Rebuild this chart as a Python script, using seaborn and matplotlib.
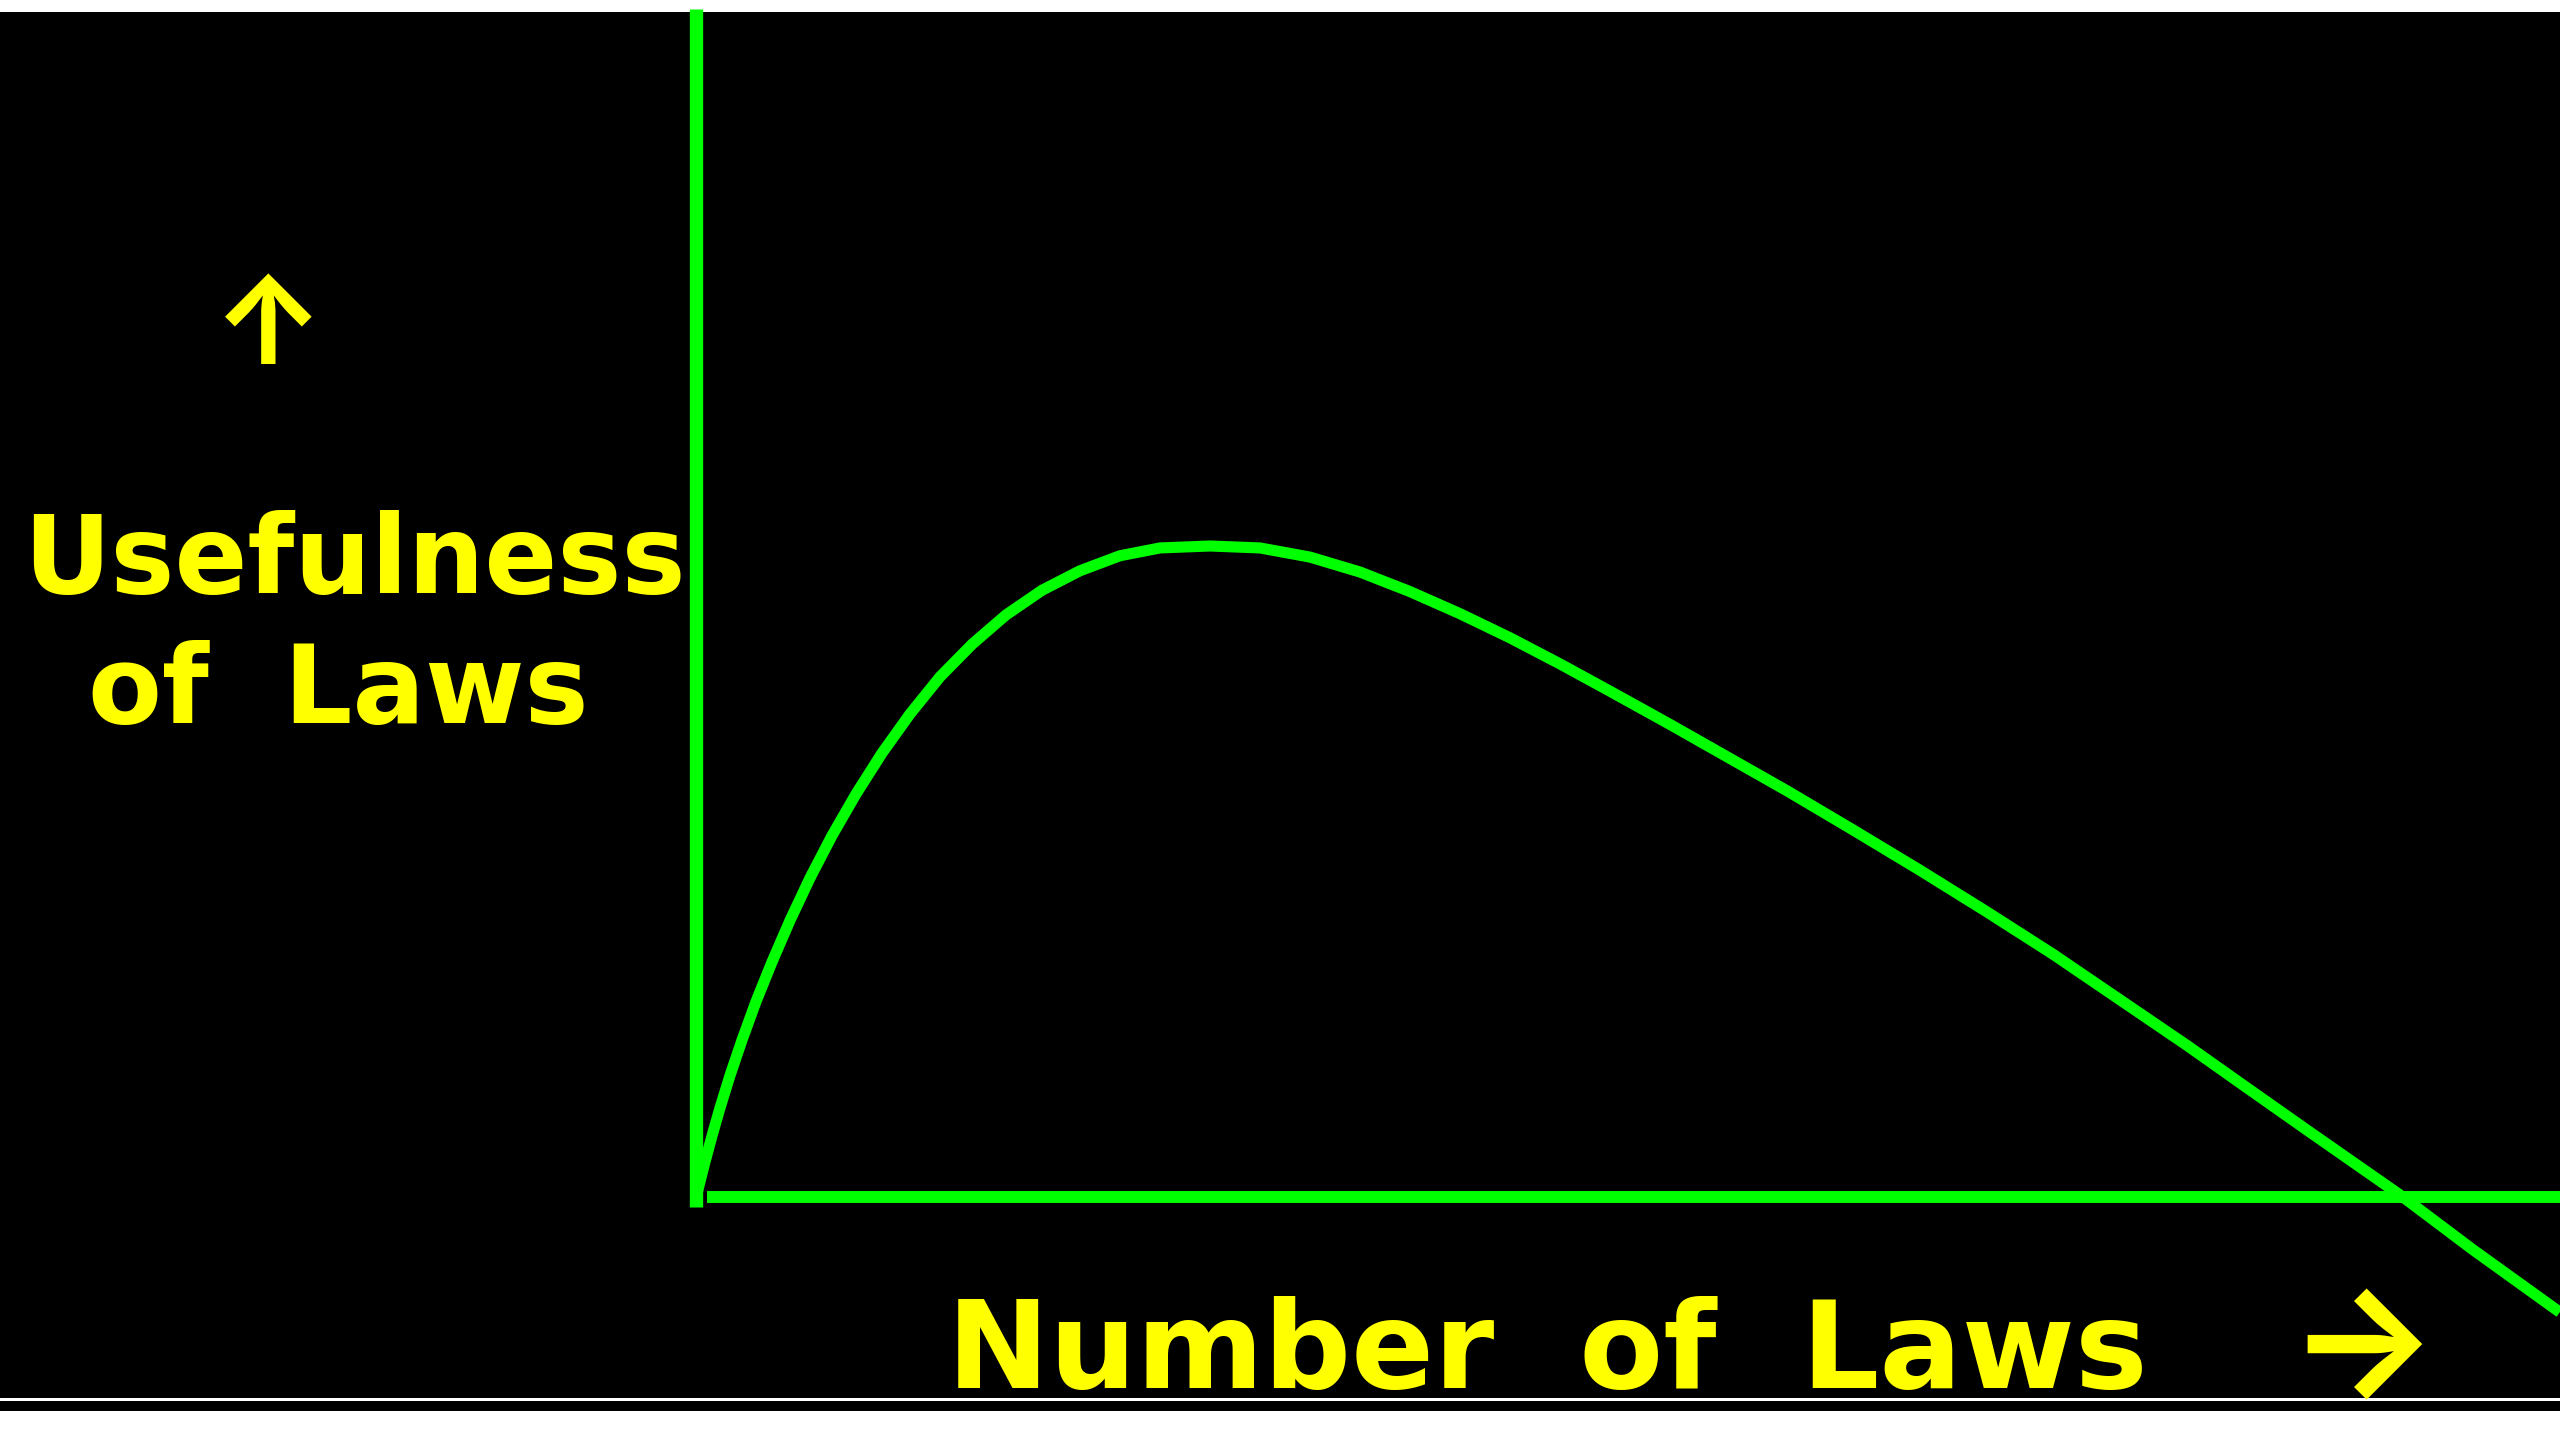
import numpy as np
import pandas as pd
import matplotlib
matplotlib.use("Agg")
import matplotlib.pyplot as plt
from matplotlib.patches import Rectangle
import seaborn as sns

# curve (x: number of laws, y: usefulness, peak = 1)
laws = [0.000, 0.023, 0.053, 0.094, 0.141, 0.200, 0.270, 0.352, 0.446,
        0.552, 0.669, 0.798, 0.939, 1.092, 1.256, 1.432, 1.620, 1.819,
        2.031, 2.254, 2.488, 2.723, 3.016, 3.310, 3.603, 3.897, 4.190,
        4.484, 4.777, 5.070, 5.364, 5.716, 6.127, 6.403, 6.790, 7.183,
        7.576, 7.964, 8.357, 8.750, 9.020, 9.454, 10.018, 10.429, 10.939]
usefulness = [0.000, 0.023, 0.054, 0.094, 0.137, 0.187, 0.241, 0.300, 0.361,
              0.425, 0.490, 0.555, 0.619, 0.682, 0.742, 0.799, 0.849, 0.894,
              0.932, 0.962, 0.985, 0.997, 1.000, 0.997, 0.983, 0.960, 0.930,
              0.896, 0.859, 0.819, 0.777, 0.726, 0.665, 0.624, 0.564, 0.502,
              0.438, 0.373, 0.303, 0.233, 0.183, 0.103, 0.000, -0.081, -0.177]

y_label_lines = ["Usefulness", "of  Laws"]
x_label = "Number  of  Laws"

GREEN = "#00ff00"
YELLOW = "#ffff00"

sns.set_style("white")
plt.rcParams["font.family"] = ["DejaVu Sans"]

W, H = 2560, 1440
fig = plt.figure(figsize=(W / 100, H / 100), dpi=100, facecolor="white")
ax = fig.add_axes([0, 42 / H, 1, 1386 / H])
ax.set_facecolor("black")

df = pd.DataFrame({"laws": laws, "usefulness": usefulness})
sns.lineplot(data=df, x="laws", y="usefulness", ax=ax, color=GREEN,
             linewidth=8, sort=False, estimator=None)
for l in ax.lines:
    l.set_solid_capstyle("butt")
    l.set_solid_joinstyle("round")

ax.set_xlim(-4.085, 10.94)
ax.set_ylim(-0.3088, 1.8203)

# axes drawn as green spines through the origin
for side in ["top", "right"]:
    ax.spines[side].set_visible(False)
ax.spines["left"].set_position(("data", 0))
ax.spines["left"].set_bounds(-0.015, 1.825)
ax.spines["left"].set_color(GREEN)
ax.spines["left"].set_linewidth(9.6)
ax.spines["left"].set_capstyle("butt")
ax.spines["bottom"].set_position(("data", 0))
ax.spines["bottom"].set_bounds(0.065, 10.94)
ax.spines["bottom"].set_color(GREEN)
ax.spines["bottom"].set_linewidth(8.6)
ax.spines["bottom"].set_capstyle("butt")
ax.set_xticks([])
ax.set_yticks([])
ax.set_xlabel("")
ax.set_ylabel("")

# thin black band near the bottom
fig.add_artist(Rectangle((0, 29 / H), 1, 10 / H, transform=fig.transFigure,
                         facecolor="black", edgecolor="none"))

def ftext(px, py, s, size, **kw):
    fig.text(px / W, 1 - py / H, s, color=YELLOW, fontsize=size,
             fontweight="bold", **kw)

arrow_font = ["Inter", "DejaVu Sans"]
ftext(268, 331, "\u2191", 88, ha="center", va="center", family=arrow_font)
ftext(354, 593, y_label_lines[0], 77.5, ha="center", va="baseline")
ftext(338, 723, y_label_lines[1], 77.5, ha="center", va="baseline")
ftext(1547, 1388, x_label, 88, ha="center", va="baseline")
ftext(2362, 1353, "\u2192", 113, ha="center", va="center", family=arrow_font)

fig.savefig("out.png", dpi=100, facecolor="white")
